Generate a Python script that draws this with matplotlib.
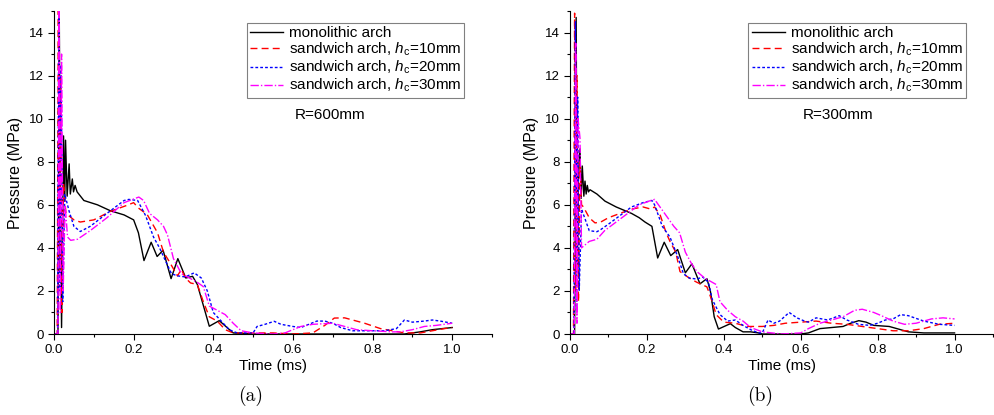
import numpy as np
import matplotlib
matplotlib.use("Agg")
import matplotlib.pyplot as plt
from matplotlib.ticker import MultipleLocator

plt.rcParams['font.family'] = ['Liberation Sans', 'DejaVu Sans']
plt.rcParams['mathtext.fontset'] = 'custom'
plt.rcParams['mathtext.rm'] = 'Liberation Sans'
plt.rcParams['mathtext.it'] = 'Liberation Sans:italic'

# ---- panel (a), R=600mm ----
t_mono_a = [0, 0.010, 0.013, 0.016, 0.019, 0.024, 0.027, 0.029, 0.033, 0.038, 0.041, 0.046, 0.049,
            0.053, 0.058, 0.075, 0.109, 0.142, 0.176, 0.200, 0.212, 0.226, 0.244, 0.259, 0.274, 0.294,
            0.311, 0.331, 0.348, 0.360, 0.390, 0.415, 0.450, 0.500, 0.880, 0.920, 0.950, 1.0]
p_mono_a = [0, 0, 15.5, 6.0, 0.3, 9.2, 6.2, 9.0, 6.4, 7.9, 6.5, 7.2, 6.6,
            6.9, 6.6, 6.2, 6.0, 5.72, 5.53, 5.3, 4.7, 3.41, 4.26, 3.6, 3.89, 2.57,
            3.5, 2.6, 2.68, 2.3, 0.36, 0.62, 0.05, 0.0, 0.0, 0.1, 0.2, 0.3]

t_c10_a = [0, 0.008, 0.011, 0.014, 0.017, 0.020, 0.024, 0.030, 0.050, 0.066, 0.100, 0.142, 0.184,
           0.200, 0.212, 0.234, 0.260, 0.275, 0.289, 0.310, 0.320, 0.330, 0.343, 0.360, 0.375, 0.390,
           0.410, 0.430, 0.450, 0.550, 0.600, 0.650, 0.680, 0.704, 0.730, 0.780, 0.820, 0.850, 0.880,
           0.920, 0.950, 0.980, 1.0]
p_c10_a = [0, 0, 15.5, 3.0, 12.0, 1.0, 7.0, 5.6, 5.3, 5.2, 5.3, 5.7, 5.98,
           6.1, 5.85, 5.55, 4.7, 3.8, 3.38, 2.7, 3.0, 2.6, 2.37, 2.3, 1.5, 0.8,
           0.6, 0.2, 0.05, 0.05, 0.0, 0.05, 0.4, 0.74, 0.75, 0.5, 0.25, 0.15, 0.05,
           0.05, 0.15, 0.25, 0.3]

t_c20_a = [0, 0.009, 0.012, 0.015, 0.018, 0.022, 0.027, 0.038, 0.050, 0.066, 0.091, 0.133, 0.176,
           0.188, 0.210, 0.230, 0.250, 0.265, 0.280, 0.295, 0.310, 0.330, 0.352, 0.370, 0.385, 0.400,
           0.410, 0.420, 0.440, 0.460, 0.500, 0.510, 0.530, 0.553, 0.570, 0.600, 0.620, 0.640, 0.660,
           0.680, 0.700, 0.720, 0.750, 0.800, 0.830, 0.860, 0.880, 0.900, 0.930, 0.950, 0.970, 1.0]
p_c20_a = [0, 0, 15.5, 2.0, 12.5, 1.5, 6.5, 5.7, 5.0, 4.76, 5.0, 5.6, 6.2,
           6.25, 6.2, 5.5, 4.5, 4.0, 3.4, 2.8, 2.7, 2.65, 2.84, 2.6, 2.0, 1.0,
           0.8, 0.6, 0.2, 0.05, 0.05, 0.35, 0.45, 0.59, 0.45, 0.35, 0.3, 0.45, 0.6,
           0.6, 0.5, 0.3, 0.15, 0.15, 0.15, 0.25, 0.65, 0.55, 0.6, 0.65, 0.6, 0.5]

t_c30_a = [0, 0.010, 0.013, 0.016, 0.019, 0.023, 0.028, 0.034, 0.042, 0.059, 0.091, 0.133, 0.176,
           0.213, 0.225, 0.240, 0.260, 0.275, 0.285, 0.300, 0.320, 0.340, 0.360, 0.375, 0.390, 0.410,
           0.430, 0.450, 0.470, 0.500, 0.550, 0.580, 0.600, 0.620, 0.650, 0.700, 0.730, 0.760, 0.800,
           0.850, 0.870, 0.900, 0.930, 0.960, 1.0]
p_c30_a = [0, 0, 15.5, 1.0, 13.0, 2.0, 6.0, 4.5, 4.35, 4.4, 4.8, 5.4, 6.1,
           6.36, 6.2, 5.6, 5.3, 5.0, 4.6, 3.5, 2.8, 2.6, 2.4, 2.2, 1.3, 1.1,
           0.9, 0.5, 0.15, 0.05, 0.0, 0.05, 0.2, 0.35, 0.45, 0.5, 0.35, 0.2, 0.15,
           0.1, 0.1, 0.2, 0.35, 0.4, 0.5]

# ---- panel (b), R=300mm ----
t_mono_b = [0, 0.012, 0.016, 0.019, 0.022, 0.026, 0.029, 0.032, 0.036, 0.039, 0.042, 0.045, 0.048,
            0.052, 0.070, 0.091, 0.120, 0.140, 0.160, 0.180, 0.195, 0.213, 0.228, 0.245, 0.262, 0.280,
            0.300, 0.317, 0.338, 0.356, 0.365, 0.375, 0.386, 0.417, 0.430, 0.450, 0.470, 0.490, 0.500,
            0.600, 0.620, 0.650, 0.680, 0.710, 0.730, 0.751, 0.770, 0.790, 0.830, 0.850, 0.880, 0.920, 1.0]
p_mono_b = [0, 0, 14.7, 3.0, 7.5, 8.6, 6.3, 7.8, 6.4, 7.1, 6.5, 6.9, 6.6,
            6.7, 6.5, 6.17, 5.9, 5.75, 5.6, 5.4, 5.2, 5.0, 3.53, 4.26, 3.64, 3.92,
            2.84, 3.26, 2.33, 2.57, 2.0, 0.8, 0.23, 0.48, 0.3, 0.1, 0.1, 0.05, 0.0,
            0.0, 0.05, 0.25, 0.3, 0.35, 0.5, 0.62, 0.55, 0.4, 0.35, 0.25, 0.1, 0.05, 0.05]

t_c10_b = [0, 0.009, 0.012, 0.015, 0.018, 0.022, 0.026, 0.030, 0.035, 0.050, 0.065, 0.080, 0.100,
           0.130, 0.160, 0.190, 0.210, 0.220, 0.235, 0.250, 0.260, 0.275, 0.286, 0.310, 0.330, 0.356,
           0.360, 0.370, 0.380, 0.400, 0.430, 0.460, 0.500, 0.530, 0.560, 0.600, 0.640, 0.680, 0.720,
           0.760, 0.800, 0.840, 0.880, 0.920, 0.960, 1.0]
p_c10_b = [0, 0, 14.9, 2.0, 12.0, 1.5, 8.0, 6.0, 5.9, 5.4, 5.16, 5.2, 5.4,
           5.6, 5.8, 5.9, 5.8, 5.9, 5.5, 4.7, 4.3, 3.8, 2.9, 2.6, 2.4, 2.19,
           2.0, 1.5, 0.9, 0.55, 0.5, 0.35, 0.35, 0.4, 0.5, 0.55, 0.6, 0.5, 0.45,
           0.35, 0.25, 0.15, 0.15, 0.25, 0.45, 0.5]

t_c20_b = [0, 0.010, 0.014, 0.017, 0.020, 0.024, 0.030, 0.050, 0.070, 0.080, 0.100, 0.130, 0.160,
           0.190, 0.213, 0.220, 0.240, 0.260, 0.280, 0.295, 0.310, 0.330, 0.345, 0.360, 0.370, 0.390,
           0.410, 0.430, 0.450, 0.470, 0.490, 0.500, 0.515, 0.530, 0.545, 0.570, 0.590, 0.610, 0.620,
           0.640, 0.670, 0.700, 0.720, 0.750, 0.780, 0.800, 0.820, 0.840, 0.860, 0.880, 0.920, 0.960, 1.0]
p_c20_b = [0, 0, 14.5, 1.0, 11.0, 2.0, 5.8, 4.8, 4.75, 4.85, 5.1, 5.5, 5.9,
           6.1, 6.2, 6.0, 5.0, 4.5, 3.6, 2.8, 2.6, 2.55, 2.65, 2.4, 1.6, 0.9,
           0.6, 0.65, 0.4, 0.2, 0.05, 0.05, 0.65, 0.5, 0.6, 1.0, 0.75, 0.6, 0.55,
           0.75, 0.65, 0.85, 0.65, 0.45, 0.4, 0.5, 0.65, 0.7, 0.9, 0.85, 0.6, 0.45, 0.4]

t_c30_b = [0, 0.011, 0.015, 0.018, 0.021, 0.026, 0.030, 0.050, 0.070, 0.090, 0.120, 0.150, 0.180,
           0.210, 0.220, 0.230, 0.250, 0.270, 0.285, 0.300, 0.315, 0.330, 0.350, 0.370, 0.380, 0.390,
           0.410, 0.430, 0.450, 0.470, 0.500, 0.550, 0.600, 0.620, 0.650, 0.680, 0.710, 0.740, 0.760,
           0.790, 0.810, 0.840, 0.870, 0.900, 0.940, 0.970, 1.0]
p_c30_b = [0, 0, 13.5, 0.5, 10.0, 9.1, 4.0, 4.3, 4.4, 4.8, 5.2, 5.6, 6.0,
           6.2, 6.25, 6.0, 5.5, 5.0, 4.7, 3.8, 3.3, 2.9, 2.6, 2.4, 2.3, 1.5,
           1.1, 0.8, 0.6, 0.3, 0.1, 0.0, 0.05, 0.25, 0.5, 0.65, 0.8, 1.1, 1.15,
           1.0, 0.85, 0.6, 0.45, 0.5, 0.7, 0.75, 0.7]

labels = ["monolithic arch",
          "sandwich arch, $h_\\mathrm{c}$=10mm",
          "sandwich arch, $h_\\mathrm{c}$=20mm",
          "sandwich arch, $h_\\mathrm{c}$=30mm"]
colors = ["black", "#ff0000", "#0000ff", "#ff00ff"]
styles = ["-", (0, (5, 3)), (0, (2, 1.5)), (0, (6, 1.5, 1, 1.5))]

panels = [
    ([(t_mono_a, p_mono_a), (t_c10_a, p_c10_a), (t_c20_a, p_c20_a), (t_c30_a, p_c30_a)], "R=600mm", "(a)"),
    ([(t_mono_b, p_mono_b), (t_c10_b, p_c10_b), (t_c20_b, p_c20_b), (t_c30_b, p_c30_b)], "R=300mm", "(b)"),
]

fig = plt.figure(figsize=(9.95, 4.15), dpi=100)
ax_pos = [[54/995, 81/415, 438/995, 323/415], [570/995, 81/415, 423/995, 323/415]]

for (series, rtxt, tag), pos in zip(panels, ax_pos):
    ax = fig.add_axes(pos)
    for (t, p), lab, c, ls in zip(series, labels, colors, styles):
        ax.plot(t, p, color=c, linestyle=ls, linewidth=1.0, label=lab)
    ax.set_xlim(0, 1.1)
    ax.set_ylim(0, 15)
    ax.spines['top'].set_visible(False)
    ax.spines['right'].set_visible(False)
    ax.xaxis.set_minor_locator(MultipleLocator(0.1))
    ax.yaxis.set_major_locator(MultipleLocator(2))
    ax.yaxis.set_minor_locator(MultipleLocator(1))
    ax.set_xticks([0, 0.2, 0.4, 0.6, 0.8, 1.0])
    ax.set_xticklabels(["0.0", "0.2", "0.4", "0.6", "0.8", "1.0"])
    ax.tick_params(which='major', length=4, width=0.8, labelsize=9.5, direction='out')
    ax.tick_params(which='minor', length=2, width=0.8, direction='out')
    ax.set_xlabel("Time (ms)", fontsize=11, labelpad=2)
    ax.set_ylabel("Pressure (MPa)", fontsize=11.5, labelpad=4)
    leg = ax.legend(loc='upper right', bbox_to_anchor=(0.936, 0.963), borderaxespad=0,
                    fontsize=11, handlelength=2.2, handletextpad=0.35, fancybox=False,
                    labelspacing=0.05, borderpad=0.2, framealpha=1)
    leg.get_frame().set_edgecolor('#808080')
    leg.get_frame().set_linewidth(0.8)
    ax.text(0.55, 0.678, rtxt, transform=ax.transAxes, fontsize=11, va='center', ha='left')
    fig.text(pos[0] + pos[2] * 0.45, 0.045, tag, fontfamily='cmr10', fontsize=14, ha='center', va='center')

plt.savefig("out.png", dpi=100)
